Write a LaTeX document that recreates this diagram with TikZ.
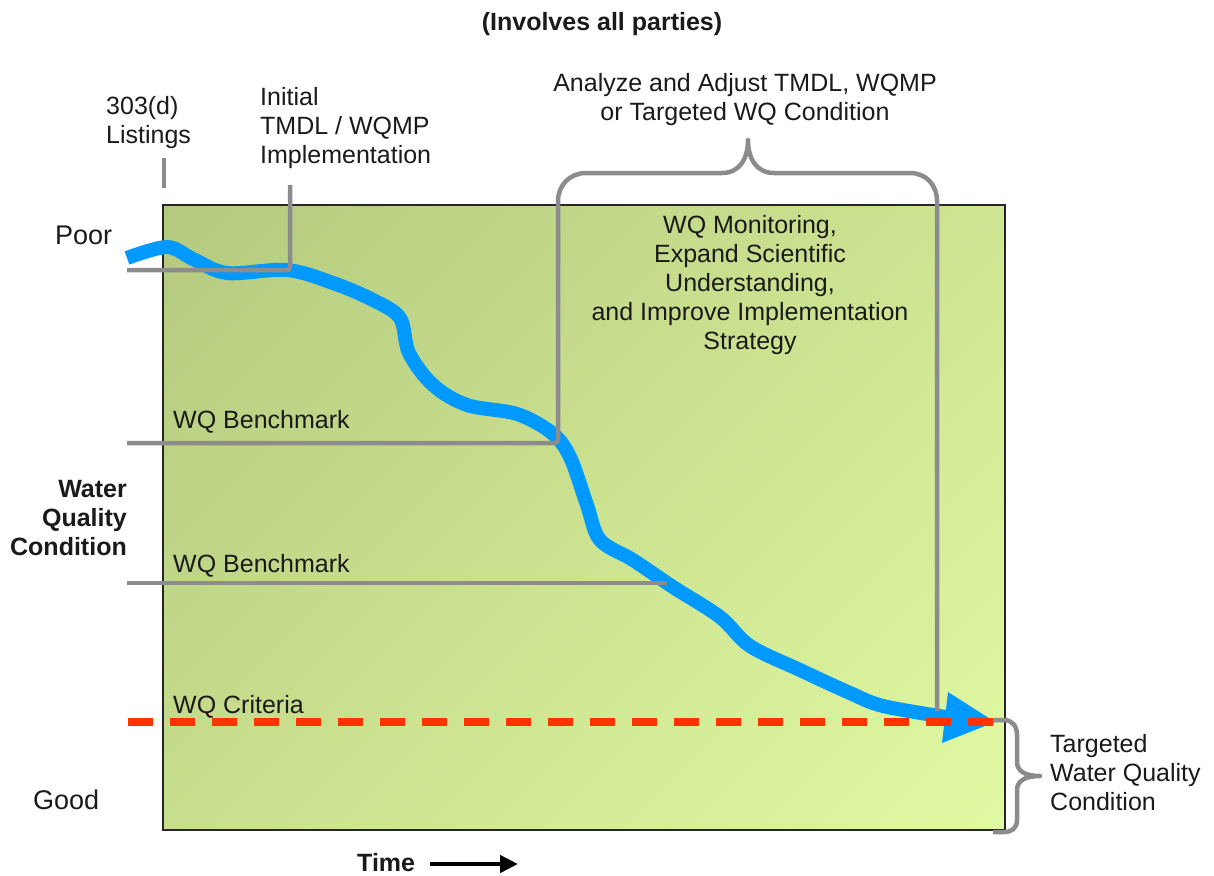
\documentclass[tikz,border=0pt]{standalone}
\usepackage{fontspec}
\setmainfont{Liberation Sans}
\usetikzlibrary{arrows.meta}

\definecolor{flow}{HTML}{0099FF}
\definecolor{guide}{HTML}{8C8C8C}
\definecolor{crit}{HTML}{FF3300}
\definecolor{fieldA}{HTML}{B4C97E}
\definecolor{fieldB}{HTML}{E2FAA2}
\definecolor{ink}{HTML}{1A1A1A}

\begin{document}
\begin{tikzpicture}[x=1pt,y=-1pt,
  lbl/.style={inner sep=0pt, text=ink, font=\fontsize{25}{29}\selectfont},
  blbl/.style={inner sep=0pt, text=ink, font=\fontsize{25}{29}\selectfont\bfseries},
  endlbl/.style={inner sep=0pt, text=ink, font=\fontsize{27}{29}\selectfont},
  guideline/.style={draw=guide, line width=4.5pt},
]
\useasboundingbox (0,0) rectangle (1214,875);

% chart field: diagonal gradient clipped to the plot area
\begin{scope}
  \clip (163,205) rectangle (1005,830);
  \shade[top color=fieldA, bottom color=fieldB, shading angle=45]
    (60,-6.5) rectangle (1108,1041.5);
\end{scope}
\draw[line width=1.5pt, black!85] (163,205) rectangle (1005,830);

% water quality trajectory
\draw[flow, line width=14pt] plot[smooth, tension=0.55] coordinates {
  (127,258) (167,247) (193,259) (227,273) (287,270) (333,283) (373,300)
  (400,318) (409,353) (433,385) (467,405) (517,414) (552,433) (570,457)
  (587,505) (600,540) (633,560) (673,587) (720,617) (750,646) (800,670)
  (850,693) (883,706) (946,717)};
\fill[flow] (995,722) -- (948,692) -- (942,743) -- cycle;

% reference lines and braces
\coordinate (list) at (164,158);
\draw[guideline] (list) -- (164,188);
\draw[guideline, rounded corners=3pt] (127,270) -- (290,270) -- (290,185);
\draw[guideline, line join=round]
  (127,443) [rounded corners=4pt] -- (558,443) -- (558,300) [sharp corners] -- (558,201)
  .. controls (558,185) and (570,173) .. (586,173) -- (722,173)
  .. controls (740,173) and (748,158) .. (748,140)
  .. controls (748,158) and (756,173) .. (774,173) -- (910,173)
  .. controls (926,173) and (937,185) .. (937,201) -- (937,711);
\draw[guideline] (127,583) -- (667,583);
\draw[guideline, line join=round]
  (993,720) -- (1004,720) .. controls (1012,720) and (1017,726) .. (1017,735)
  -- (1017,762) .. controls (1017,771) and (1025,776) .. (1040,776)
  .. controls (1025,776) and (1017,781) .. (1017,790) -- (1017,820)
  .. controls (1017,828) and (1012,832) .. (1004,832) -- (993,832);

% criteria line
\draw[crit, line width=8pt, dash pattern=on 25pt off 17pt] (128,722) -- (994,722);

% time axis arrow
\draw[black, line width=4.5pt, -{Triangle[length=18pt,width=17pt]}] (430,864) -- (518,864);

% labels (multi-line nodes are anchored at the baseline of their last line)
\node[blbl, anchor=base] (sub) at (602,31) {(Involves all parties)};
\node[lbl, anchor=base west, align=left] (lst) at (106,143) {303(d)\\Listings};
\node[lbl, anchor=base west, align=left] (init) at (260,163) {Initial\\TMDL / WQMP\\Implementation};
\node[lbl, anchor=base, align=center] (adj) at (745,120) {Analyze and Adjust TMDL, WQMP\\or Targeted WQ Condition};
\node[lbl, anchor=base, align=center] (mon) at (750,349)
  {WQ Monitoring,\\Expand Scientific\\Understanding,\\and Improve Implementation\\Strategy};
\node[endlbl, anchor=base west] (poor) at (55,244) {Poor};
\node[endlbl, anchor=base west] (good) at (33,809) {Good};
\node[blbl, anchor=base east, align=right] (wqc) at (127,555) {Water\\Quality\\Condition};
\node[lbl, anchor=base west] (b1) at (173,428) {WQ Benchmark};
\node[lbl, anchor=base west] (b2) at (173,572) {WQ Benchmark};
\node[lbl, anchor=base west] (crt) at (173,713) {WQ Criteria};
\node[lbl, anchor=base west, align=left] (tgt) at (1050,810) {Targeted\\Water Quality\\Condition};
\node[blbl, anchor=base west] (time) at (357,871) {Time};
\end{tikzpicture}
\end{document}
